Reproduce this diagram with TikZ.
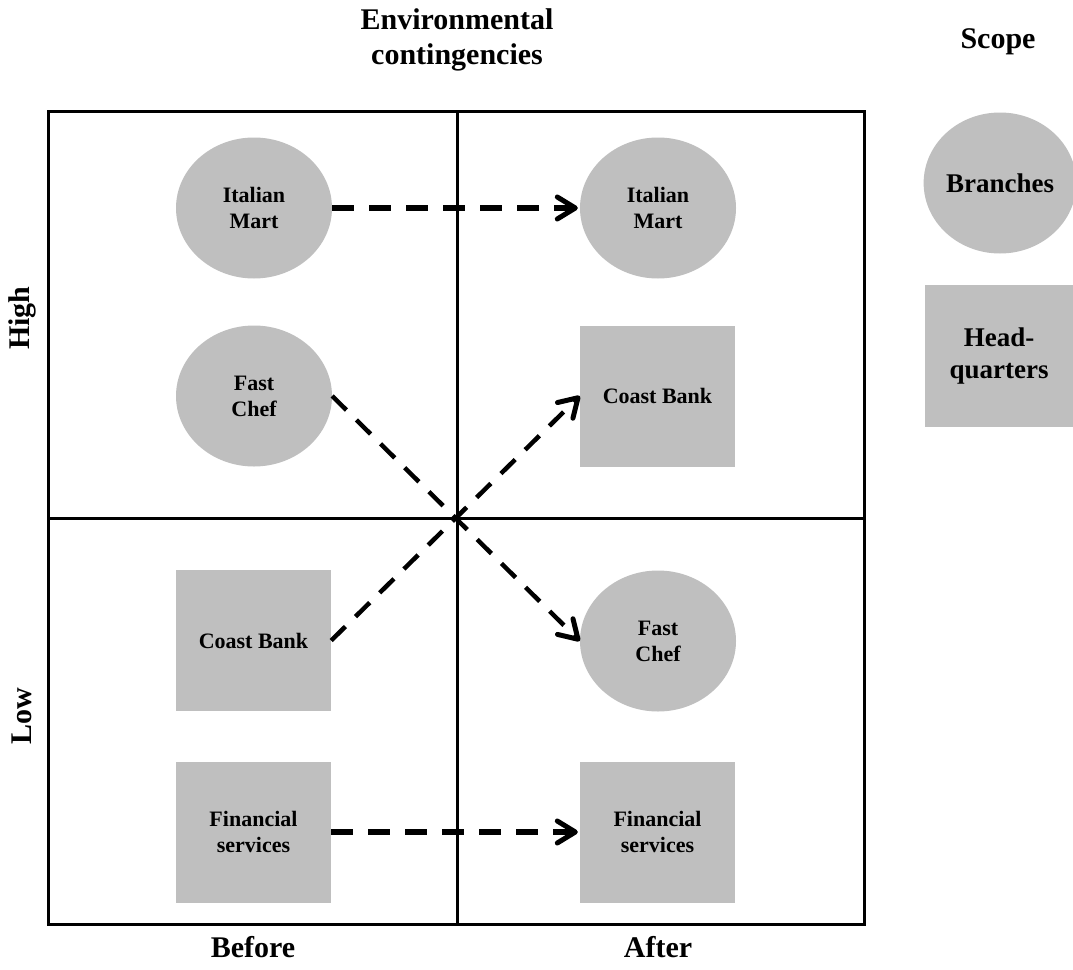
\documentclass[tikz,border=0pt]{standalone}
\usepackage{fontspec}
\setmainfont{Liberation Serif}
\usetikzlibrary{shapes.geometric,arrows.meta}
\begin{document}
\begin{tikzpicture}[x=1pt,y=-1pt,
  frame/.style={line width=3pt},
  branch/.style={ellipse,fill=black!25,minimum width=156pt,minimum height=141pt,inner sep=0pt,
    align=center,font=\fontsize{22}{26}\selectfont\bfseries},
  hq/.style={rectangle,fill=black!25,minimum width=155pt,minimum height=141pt,inner sep=0pt,
    align=center,font=\fontsize{22}{26}\selectfont\bfseries},
  heading/.style={align=center,font=\fontsize{30}{35}\selectfont\bfseries},
  legendfont/.style={font=\fontsize{27}{32}\selectfont\bfseries},
  tip/.style={-{Straight Barb[length=18pt,width=22pt,line width=5pt,line cap=round,line join=round]}},
  stayline/.style={tip,dash pattern=on 22pt off 15pt,line width=5.5pt},
  swapline/.style={tip,dash pattern=on 20pt off 14pt,line width=4.5pt}]
\useasboundingbox (0,0) rectangle (1073,969);

% quadrant frame
\draw[frame] (48,111) rectangle (864,924);
\draw[frame] (457,111) -- (457,924);
\draw[frame] (48,518) -- (864,518);

% axis labels
\node[heading] (env) at (457,40) {Environmental\\contingencies};
\node[heading] (scope) at (998,42) {Scope};
\node[heading,rotate=90] (high) at (22,318) {High};
\node[heading,rotate=90] (low) at (22,716) {Low};
\node[heading] (before) at (253,947) {Before};
\node[heading] (after) at (658,947) {After};

% before
\node[branch] (imL) at (254,208) {Italian\\Mart};
\node[branch] (fcL) at (254,396) {Fast\\Chef};
\node[hq] (cbL) at (253.5,640.5) {Coast Bank};
\node[hq] (fsL) at (253.5,832) {Financial\\services};

% after
\node[branch] (imR) at (658,208) {Italian\\Mart};
\node[hq] (cbR) at (657.5,396) {Coast Bank};
\node[branch] (fcR) at (658,641) {Fast\\Chef};
\node[hq] (fsR) at (657.5,832) {Financial\\services};

% legend
\node[branch,legendfont,minimum width=148pt] (lgB) at (1000,183) {Branches};
\node[hq,legendfont,minimum width=148pt,minimum height=142pt] (lgH) at (999,356) {Head-\\quarters};

% changes
\draw[stayline] (imL.east) -- ([xshift=-2pt]imR.west);
\draw[stayline] (fsL.east) -- ([xshift=-2pt]fsR.west);
\draw[swapline] (fcL.east) -- (fcR.west);
\draw[swapline] (cbL.east) -- (cbR.west);
\end{tikzpicture}
\end{document}
